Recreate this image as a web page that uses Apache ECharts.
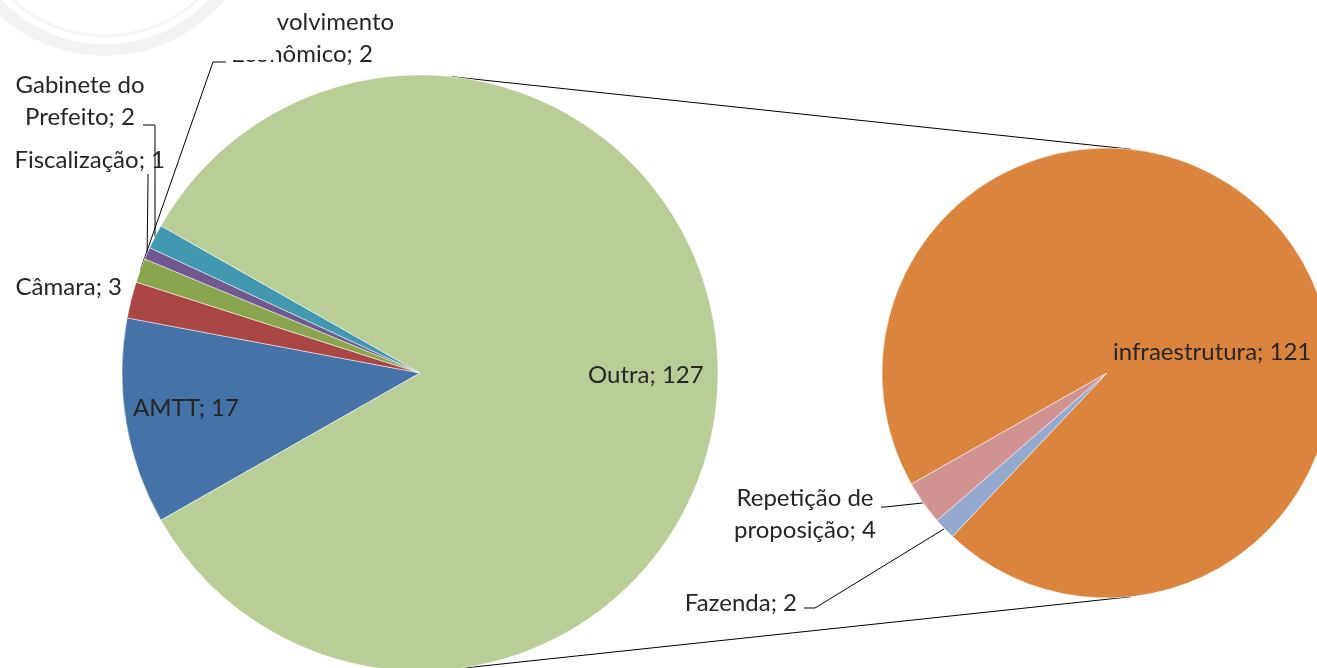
<!DOCTYPE html>
<html>
<head>
<meta charset="utf-8">
<title>Pizza de pizza</title>
<script src="https://cdn.jsdelivr.net/npm/echarts@6/dist/echarts.min.js"></script>
<style>
  html, body { margin: 0; padding: 0; background: #fff; }
  #main { width: 1317px; height: 668px; }
</style>
</head>
<body>
<div id="main"></div>
<script>
// pizza principal ("Outra" = soma da segunda pizza)
var mainNames = ['AMTT', 'Câmara', 'Desenvolvimento Econômico', 'Fiscalização', 'Gabinete do Prefeito', 'Outra'];
var mainValues = [17, 3, 2, 1, 2, 127];

// segunda pizza (detalhe de "Outra")
var subNames = ['infraestrutura', 'Fazenda', 'Repetição de proposição'];
var subValues = [121, 2, 4];

var mainColors = ['#4572A7', '#AA4643', '#89A54E', '#71588F', '#4198AF', '#B9CD96'];
var subColors = ['#DB843D', '#93A9CF', '#D19392'];

// geometria
var C1 = [420, 373], R1 = 298;
var C2 = [1107, 373], R2 = 225;
var FONT = 'Lato';
var FS = 24;

// quebras de linha dos rótulos
var wrap = {
  'Gabinete do Prefeito': 'Gabinete do\nPrefeito',
  'Desenvolvimento Econômico': 'Desenvolvimento\nEconômico',
  'Repetição de proposição': 'Repetição de\nproposição'
};

// posição dos rótulos (x, y, align) e pontos da linha guia
var labelPos = [
  [
    { x: 133, y: 408, align: 'left' },
    { x: 122, y: 287, align: 'right' },
    { x: 302, y: 38, align: 'center', line: [[213, 62], [226, 62]] },
    { x: 165, y: 160, align: 'right', line: [[148, 180], [148, 174]] },
    { x: 80, y: 101, align: 'center', line: [[155, 125], [143, 125]] },
    { x: 588, y: 375, align: 'left' }
  ],
  [
    { x: 1113, y: 352, align: 'left' },
    { x: 797, y: 603, align: 'right', line: [[815, 608], [804, 608]] },
    { x: 805, y: 514, align: 'center', line: [[885, 507], [881, 507]] }
  ]
];

var inside = { 'Outra': 1, 'AMTT': 1, 'infraestrutura': 1 };

function sum(a) { return a.reduce(function (s, v) { return s + v; }, 0); }

function buildData(names, values, colors) {
  return names.map(function (n, i) {
    var d = { name: n, value: values[i], itemStyle: { color: colors[i] } };
    if (inside[n]) {
      d.label = { position: 'inside' };
      d.labelLine = { show: false };
    } else if (n === 'Câmara') {
      d.labelLine = { show: false };
    }
    return d;
  });
}

function layoutFor(si) {
  return function (p) {
    var pos = labelPos[si][p.dataIndex];
    var out = { x: pos.x, y: pos.y, align: pos.align, verticalAlign: 'middle' };
    if (pos.line && p.labelLinePoints) {
      out.labelLinePoints = [p.labelLinePoints[0], pos.line[0], pos.line[1]];
    }
    return out;
  };
}

var restMain = sum(mainValues) - mainValues[mainValues.length - 1];
var startMain = 180 + restMain / sum(mainValues) * 180;
var startSub = 209.6;

// tangentes externas entre as duas pizzas
var d = C2[0] - C1[0];
var phi = Math.acos((R1 - R2) / d);
function tangent(sign) {
  var cx = Math.cos(phi), sy = Math.sin(phi) * sign;
  return [[C1[0] + R1 * cx, C1[1] - R1 * sy], [C2[0] + R2 * cx, C2[1] - R2 * sy]];
}
var tTop = tangent(1), tBot = tangent(-1);

var labelStyle = {
  show: true,
  formatter: function (p) { return (wrap[p.name] || p.name) + '; ' + p.value; },
  fontFamily: FONT,
  fontSize: FS,
  lineHeight: 32,
  color: '#262626'
};
var lineStyle = { color: '#000', width: 1 };

var myChart = echarts.init(document.getElementById('main'));
var option = {
  backgroundColor: '#fff',
  animation: false,
  graphic: [
    { type: 'line', z: 1, shape: { x1: tTop[0][0], y1: tTop[0][1], x2: tTop[1][0], y2: tTop[1][1] }, style: { stroke: '#000', lineWidth: 1 } },
    { type: 'line', z: 1, shape: { x1: tBot[0][0], y1: tBot[0][1], x2: tBot[1][0], y2: tBot[1][1] }, style: { stroke: '#000', lineWidth: 1 } },
    { type: 'rect', z: 100, shape: { x: 0, y: 0, width: 276, height: 60 }, style: { fill: '#fff' } },
    { type: 'circle', z: 101, shape: { cx: 105, cy: -100, r: 150 }, style: { fill: 'none', stroke: '#f3f3f3', lineWidth: 12 } },
    { type: 'circle', z: 101, shape: { cx: 105, cy: -100, r: 136 }, style: { fill: 'none', stroke: '#f5f5f5', lineWidth: 3 } }
  ],
  series: [
    {
      type: 'pie',
      center: C1,
      radius: R1,
      startAngle: startMain,
      avoidLabelOverlap: false,
      label: labelStyle,
      labelLine: { show: true, lineStyle: lineStyle },
      labelLayout: layoutFor(0),
      itemStyle: { borderColor: '#fff', borderWidth: 0.5 },
      emphasis: { disabled: true },
      data: buildData(mainNames, mainValues, mainColors)
    },
    {
      type: 'pie',
      center: C2,
      radius: R2,
      startAngle: startSub,
      avoidLabelOverlap: false,
      label: labelStyle,
      labelLine: { show: true, lineStyle: lineStyle },
      labelLayout: layoutFor(1),
      itemStyle: { borderColor: '#fff', borderWidth: 0.5 },
      emphasis: { disabled: true },
      data: buildData(subNames, subValues, subColors)
    }
  ]
};
myChart.setOption(option);
</script>
</body>
</html>
